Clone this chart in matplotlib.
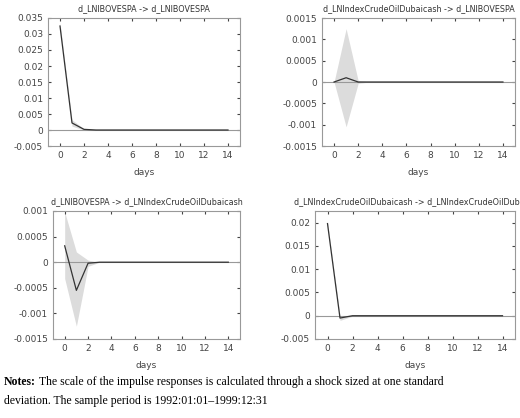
import matplotlib
matplotlib.use("Agg")
import matplotlib.pyplot as plt

days = list(range(15))
titles = ["d_LNIBOVESPA -> d_LNIBOVESPA",
          "d_LNIndexCrudeOilDubaicash -> d_LNIBOVESPA",
          "d_LNIBOVESPA -> d_LNIndexCrudeOilDubaicash",
          "d_LNIndexCrudeOilDubaicash -> d_LNIndexCrudeOilDubaica"]
resp1 = [0.0325, 0.0022, 0.0002] + [0.0] * 12
lo1 = [0.0315, 0.0012, 0.0] + [0.0] * 12
hi1 = [0.0335, 0.0032, 0.0004] + [0.0] * 12
resp2 = [0.0, 0.0001, 0.0] + [0.0] * 12
lo2 = [0.0, -0.00105, -0.00003] + [0.0] * 12
hi2 = [0.0, 0.00125, 0.00003] + [0.0] * 12
resp3 = [0.00032, -0.00055, -0.00002, 0.0] + [0.0] * 11
lo3 = [-0.00032, -0.00125, -0.00008, 0.0] + [0.0] * 11
hi3 = [0.00098, 0.0002, 0.00004, 0.0] + [0.0] * 11
resp4 = [0.0198, -0.0005, 0.0] + [0.0] * 12
lo4 = [0.0195, -0.001, -0.0001] + [0.0] * 12
hi4 = [0.0201, 0.0, 0.0001] + [0.0] * 12

data = [(resp1, lo1, hi1), (resp2, lo2, hi2), (resp3, lo3, hi3), (resp4, lo4, hi4)]
ylims = [(-0.005, 0.035), (-0.0015, 0.0015), (-0.0015, 0.001), (-0.005, 0.0225)]
yticks = [[-0.005, 0, 0.005, 0.01, 0.015, 0.02, 0.025, 0.03, 0.035],
          [-0.0015, -0.001, -0.0005, 0, 0.0005, 0.001, 0.0015],
          [-0.0015, -0.001, -0.0005, 0, 0.0005, 0.001],
          [-0.005, 0, 0.005, 0.01, 0.015, 0.02]]
ylabels = [["-0.005", "0", "0.005", "0.01", "0.015", "0.02", "0.025", "0.03", "0.035"],
           ["-0.0015", "-0.001", "-0.0005", "0", "0.0005", "0.001", "0.0015"],
           ["-0.0015", "-0.001", "-0.0005", "0", "0.0005", "0.001"],
           ["-0.005", "0", "0.005", "0.01", "0.015", "0.02"]]
rects = [(48, 18, 240, 146), (322, 18, 515, 146), (53, 211, 240, 339), (315, 211, 515, 339)]

W, H = 520, 418
fig = plt.figure(figsize=(W / 100, H / 100), dpi=100)
for i in range(4):
    x0, y0, x1, y1 = rects[i]
    ax = fig.add_axes([x0 / W, 1 - y1 / H, (x1 - x0) / W, (y1 - y0) / H])
    r, lo, hi = data[i]
    ax.fill_between(days, lo, hi, color="#dcdcdc", lw=0)
    ax.axhline(0, color="#999999", lw=0.8)
    ax.plot(days, r, color="#333333", lw=0.9)
    ax.set_xlim(-1, 15)
    ax.set_ylim(*ylims[i])
    ax.set_xticks(range(0, 15, 2))
    ax.set_yticks(yticks[i])
    ax.set_yticklabels(ylabels[i])
    ax.tick_params(labelsize=6.5, length=2, direction="in", top=True, right=True, colors="#444444")
    for s in ax.spines.values():
        s.set_color("#999999")
        s.set_linewidth(0.8)
    ax.set_title(titles[i], fontsize=5.8, color="#333333", pad=5)
    ax.set_xlabel("days", fontsize=6.5, color="#444444", labelpad=6)

y1n = 1 - 385 / H
t = fig.text(0.008, y1n, "Notes:", fontsize=8.5, family="Liberation Serif", weight="bold", va="baseline")
r = fig.canvas.get_renderer()
bb = t.get_window_extent(renderer=r)
fig.text(bb.x1 / W + 0.006, y1n, "The scale of the impulse responses is calculated through a shock sized at one standard",
         fontsize=8.5, family="Liberation Serif", va="baseline")
fig.text(0.008, 1 - 404 / H, "deviation. The sample period is 1992:01:01\u20131999:12:31",
         fontsize=8.5, family="Liberation Serif", va="baseline")
fig.savefig("out.png", dpi=100)
